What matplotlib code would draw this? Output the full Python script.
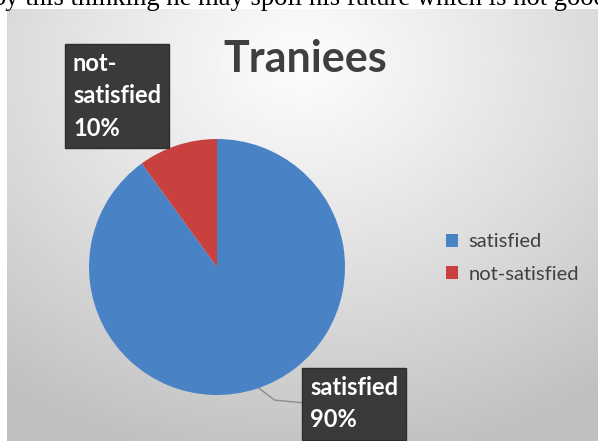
import numpy as np
import matplotlib.pyplot as plt
from matplotlib.patches import Patch

# datos del grafico
categorias = ['satisfied', 'not-satisfied']
valores = [90, 10]
colores = ['#4A82C6', '#C9413E']
titulo = 'Traniees'
texto_arriba = 'by this thinking he may spoil his future which is not good for him'

W, H = 598, 441
fig = plt.figure(figsize=(W / 100, H / 100), dpi=100)
fig.patch.set_facecolor('white')

# texto cortado de la pagina
fig.text(-8 / W, 1 - 5 / H, texto_arriba, family='Liberation Serif', fontsize=19.2,
         color='black', ha='left', va='baseline')

# fondo con degradado
x0, y0 = 7, 9
fondo = fig.add_axes([x0 / W, 0, (W - x0) / W, (H - y0) / H])
gx, gy = np.meshgrid(np.linspace(0, 1, 300), np.linspace(0, 1, 220))
d = np.sqrt(((gx - 0.5) * 1.1) ** 2 + (gy - 0.12) ** 2)
val = 0.99 - 0.24 * np.clip(d / 0.95, 0, 1) ** 1.1
fondo.imshow(val, cmap='gray', vmin=0, vmax=1, aspect='auto', extent=[0, 1, 1, 0])
fondo.set_axis_off()

# titulo
fig.text(305 / W, 1 - 59 / H, titulo, family='Lato', weight='bold', fontsize=31,
         color='#3F3F3F', ha='center', va='center')

# pastel
cx, cy, r = 217, 267, 128
ax = fig.add_axes([(cx - r) / W, (H - cy - r) / H, 2 * r / W, 2 * r / H])
ax.pie(valores, colors=colores, startangle=90, counterclock=False, radius=1,
       wedgeprops=dict(linewidth=0))
ax.set_xlim(-1, 1)
ax.set_ylim(-1, 1)
ax.set_aspect('auto')
ax.set_axis_off()

# linea guia
ang = np.deg2rad(-71)
ax.plot([np.cos(ang), 0.45, 0.66], [np.sin(ang), -1.04, -1.06],
        color='#8C8C8C', lw=1, clip_on=False)

caja = dict(boxstyle='square,pad=0.35', facecolor='#3A3A3A', edgecolor='#2E2E2E')
ax.text(-1.125, 1.68, 'not-\nsatisfied\n' + f'{valores[1]}%', family='Lato', weight='bold',
        fontsize=17, color='white', ha='left', va='top', linespacing=1.5,
        bbox=caja, clip_on=False)
ax.text(0.727, -0.85, 'satisfied\n' + f'{valores[0]}%', family='Lato', weight='bold',
        fontsize=17, color='white', ha='left', va='top', linespacing=1.5,
        bbox=caja, clip_on=False)

# leyenda
manejadores = [Patch(facecolor=c, edgecolor='none') for c in colores]
fig.legend(manejadores, categorias, loc='center left', bbox_to_anchor=(428 / W, 1 - 258 / H),
           frameon=False, prop=dict(family='Lato', size=14.5), labelcolor='#404040',
           handlelength=0.6, handleheight=0.6, handletextpad=0.5, labelspacing=0.75)

fig.savefig('out.png', dpi=100)
